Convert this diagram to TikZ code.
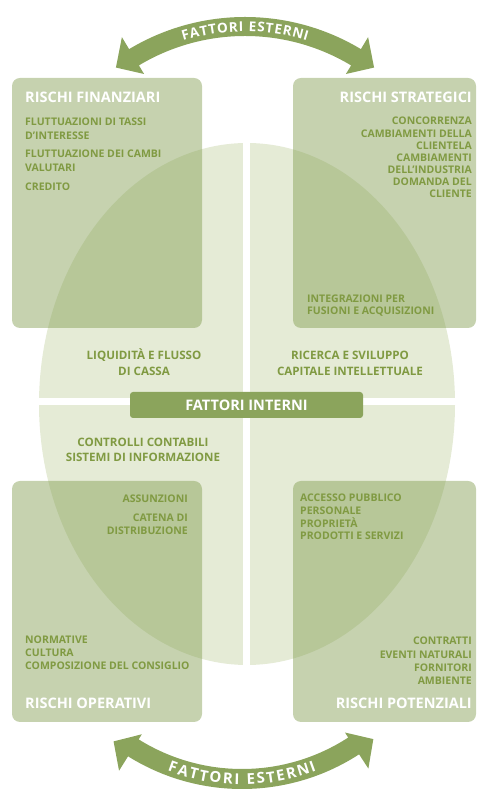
\documentclass[tikz,border=0pt]{standalone}
\usepackage{fontspec}
\setmainfont{Open Sans}
\definecolor{arrowg}{RGB}{139,164,92}
\definecolor{boxg}{RGB}{128,156,78}
\definecolor{ellg}{RGB}{229,235,214}
\definecolor{txtg}{RGB}{128,154,66}
\tikzset{
  body/.style={font=\bfseries\fontsize{10.5}{12}\selectfont, text=txtg, inner sep=0pt},
  lbody/.style={body, anchor=base west},
  rbody/.style={body, anchor=base east},
  cbody/.style={font=\bfseries\fontsize{11.6}{13}\selectfont, text=txtg, inner sep=0pt, anchor=base},
  title/.style={font=\bfseries\fontsize{14.5}{16}\selectfont, text=white, inner sep=0pt},
  riskbox/.style={fill=boxg, fill opacity=0.45, rounded corners=8pt},
  gap/.style={white, line width=7pt},
  arcletter/.style={text=white, inner sep=0pt, anchor=base},
}
% letters of FATTORI ESTERNI with their advance widths (em, Open Sans Bold)
\newcommand\fattoriletters{F/.543,A/.690,T/.562,T/.562,O/.796,R/.661,I/.320,~/.260,E/.562,S/.543,T/.562,E/.562,R/.661,N/.779,I/.320}
% #1 centre, #2 radius, #3 mid angle, #4 sign (1 top, -1 bottom), #5 gap, #6 font size, #7 name prefix
\newcommand\curvedtext[7]{%
  \gdef\arctot{0}%
  \foreach \ltr/\lw in \fattoriletters{%
    \pgfmathparse{\arctot+\lw*#6+#5}\xdef\arctot{\pgfmathresult}}%
  \gdef\arcpos{0}%
  \foreach \ltr/\lw [count=\i] in \fattoriletters{%
    \pgfmathsetmacro\arcang{#3+#4*(\arctot/2-\arcpos-(\lw*#6+#5)/2)/#2*180/pi}%
    \pgfmathsetmacro\arcrot{\arcang-#4*90}%
    \node[arcletter, font=\bfseries\fontsize{#6}{#6}\selectfont, rotate=\arcrot] (#7\i) at ([shift={(#1)}]\arcang:#2pt) {\ltr};
    \pgfmathparse{\arcpos+\lw*#6+#5}\xdef\arcpos{\pgfmathresult}%
  }%
}
\begin{document}
\begin{tikzpicture}[x=1pt,y=1pt]
\useasboundingbox (0,0) rectangle (478,792);
% central ellipse with white cross
\fill[ellg] (247,388) ellipse[x radius=208pt, y radius=261pt];
\draw[gap] (246,120) -- (246,660);
\draw[gap] (30,390) -- (465,390);
% risk boxes
\path[riskbox] (12,464) rectangle (202,714);
\path[riskbox] (293,464) rectangle (476,714);
\path[riskbox] (12,70) rectangle (202,311);
\path[riskbox] (293,70) rectangle (476,311);
% banner
\node[fill=arrowg, rounded corners=3pt, minimum width=233pt, minimum height=26pt, inner sep=0pt,
      font=\bfseries\fontsize{14.5}{14.5}\selectfont, text=white] (fi) at (246.5,387) {FATTORI INTERNI};
% top-left
\node[title, anchor=base west] (t1) at (25,689) {RISCHI FINANZIARI};
\node[lbody] (a1) at (25,666.5) {FLUTTUAZIONI DI TASSI};
\node[lbody] (a2) at (25,652.5) {D'INTERESSE};
\node[lbody] (a3) at (25,634.5) {FLUTTUAZIONE DEI CAMBI};
\node[lbody] (a4) at (25,620.5) {VALUTARI};
\node[lbody] (a5) at (25,601.5) {CREDITO};
% top-right
\node[title, anchor=base east] (t2) at (472,689) {RISCHI STRATEGICI};
\node[rbody] (b1) at (472,667) {CONCORRENZA};
\node[rbody] (b2) at (472,654) {CAMBIAMENTI DELLA};
\node[rbody] (b3) at (472,642.5) {CLIENTELA};
\node[rbody] (b4) at (472,630) {CAMBIAMENTI};
\node[rbody] (b5) at (472,618.5) {DELL'INDUSTRIA};
\node[rbody] (b6) at (472,606) {DOMANDA DEL};
\node[rbody] (b7) at (472,594.5) {CLIENTE};
\node[lbody] (b8) at (307,489) {INTEGRAZIONI PER};
\node[lbody] (b9) at (307,477) {FUSIONI E ACQUISIZIONI};
% centre
\node[cbody] (c1) at (144,432.5) {LIQUIDITÀ E FLUSSO};
\node[cbody] (c2) at (144,416.5) {DI CASSA};
\node[cbody] (c3) at (350,432.5) {RICERCA E SVILUPPO};
\node[cbody] (c4) at (350,416.5) {CAPITALE INTELLETTUALE};
\node[cbody] (c5) at (143,345.5) {CONTROLLI CONTABILI};
\node[cbody] (c6) at (143,330.5) {SISTEMI DI INFORMAZIONE};
% bottom-left
\node[rbody] (d1) at (188,289) {ASSUNZIONI};
\node[rbody] (d2) at (188,270) {CATENA DI};
\node[rbody] (d3) at (188,257) {DISTRIBUZIONE};
\node[lbody] (d4) at (25,148.5) {NORMATIVE};
\node[lbody] (d5) at (25,135) {CULTURA};
\node[lbody] (d6) at (25,122) {COMPOSIZIONE DEL CONSIGLIO};
\node[title, anchor=base west] (t3) at (25,83) {RISCHI OPERATIVI};
% bottom-right
\node[lbody] (e1) at (300,290) {ACCESSO PUBBLICO};
\node[lbody] (e2) at (300,277) {PERSONALE};
\node[lbody] (e3) at (300,264.5) {PROPRIETÀ};
\node[lbody] (e4) at (300,252) {PRODOTTI E SERVIZI};
\node[rbody] (e5) at (472,147) {CONTRATTI};
\node[rbody] (e6) at (472,133.5) {EVENTI NATURALI};
\node[rbody] (e7) at (472,120) {FORNITORI};
\node[rbody] (e8) at (472,107) {AMBIENTE};
\node[title, anchor=base east] (t4) at (472,83) {RISCHI POTENZIALI};
% top curved double arrow
\coordinate (ct) at (245,550);
\fill[arrowg] ([shift={(ct)}]59:225pt) arc[start angle=59, end angle=121, radius=225pt]
  -- ([shift={(ct)}]121:239pt) -- ([shift={(ct)}]126.5:217pt) -- ([shift={(ct)}]121:196pt)
  -- ([shift={(ct)}]121:206pt) arc[start angle=121, end angle=59, radius=206pt]
  -- ([shift={(ct)}]59:196pt) -- ([shift={(ct)}]53.5:217pt) -- ([shift={(ct)}]59:239pt) -- cycle;
\curvedtext{ct}{210.5}{90}{1}{0.9}{13.5}{up}
% bottom curved double arrow
\coordinate (cb) at (242,218);
\fill[arrowg] ([shift={(cb)}]-122:195pt) arc[start angle=-122, end angle=-57, radius=195pt]
  -- ([shift={(cb)}]-57:189pt) -- ([shift={(cb)}]-51.5:211pt) -- ([shift={(cb)}]-57:232pt)
  -- ([shift={(cb)}]-57:215pt) arc[start angle=-57, end angle=-122, radius=215pt]
  -- ([shift={(cb)}]-122:232pt) -- ([shift={(cb)}]-127.5:211pt) -- ([shift={(cb)}]-122:189pt) -- cycle;
\curvedtext{cb}{210.5}{-90}{-1}{1.9}{15}{dn}
\end{tikzpicture}
\end{document}
